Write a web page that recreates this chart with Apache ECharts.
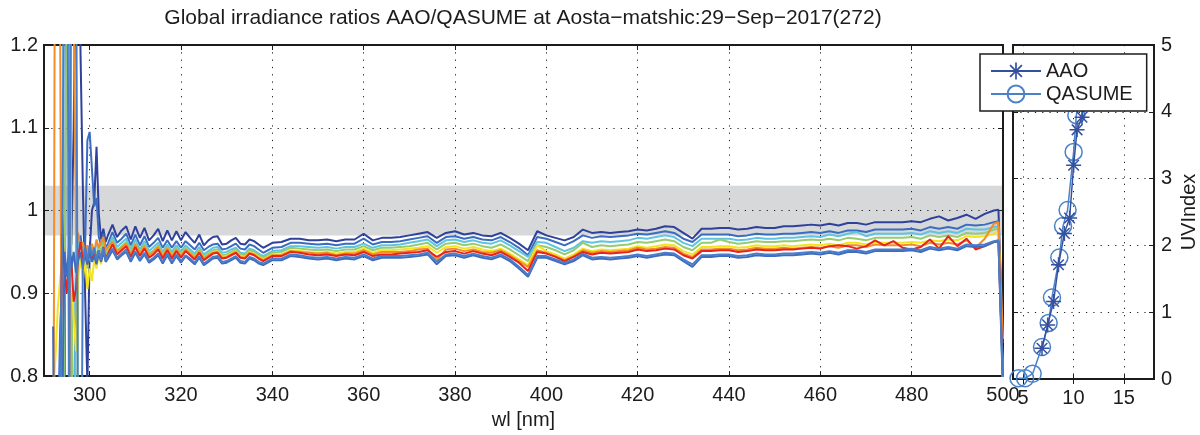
<!DOCTYPE html>
<html>
<head>
<meta charset="utf-8">
<script src="https://cdn.jsdelivr.net/npm/echarts@6.0.0/dist/echarts.min.js"></script>
<style>
  html, body { margin: 0; padding: 0; background: #ffffff; }
  #chart { width: 1200px; height: 435px; }
</style>
</head>
<body>
<div id="chart"></div>
<script>
// Wavelength grid [nm]
const wl = [
  290, 290.5, 291, 291.5, 292, 292.5, 293, 293.5, 294, 294.5, 295, 295.5, 296, 296.5, 297, 297.5,
  298, 298.5, 299, 299.5, 300, 300.5, 301, 301.5, 302, 302.5, 303, 303.5, 304,
  305, 306, 307, 308, 309, 310, 311, 312, 313, 314, 315, 316, 317, 318, 319, 320, 321, 322, 323, 324,
  325, 326, 327, 328, 329, 330, 331, 332, 333, 334, 335, 336, 337, 338, 339, 340,
  342, 344, 346, 348, 350, 352, 354, 356, 358, 360, 362, 364, 366, 368, 370, 372, 374, 376, 378, 380,
  382, 384, 386, 388, 390, 392, 394, 396, 398, 400, 402, 404, 406, 408, 410, 412, 414, 416, 418, 420,
  422, 424, 426, 428, 430, 432, 434, 436, 438, 440, 442, 444, 446, 448, 450, 452, 454, 456, 458, 460,
  462, 464, 466, 468, 470, 472, 474, 476, 478, 480, 482, 484, 486, 488, 490, 492, 494, 496, 498,
  499, 500
];

// Irradiance ratios AAO/QASUME (x1000), one scan per array
const ratio1 = [
  400,500,550,600,650,700,740,780,995,940,925,945,960,1100,1350,1450,1190,1030,900,790,950,1000,1010,1077,996,965,978,962,970,
  983,968,976,981,965,981,967,979,964,970,978,963,976,964,975,964,974,967,961,971,958,964,968,969,959,960,964,967,960,959,965,963,959,955,958,961,
  962,966,966,964,964,965,963,965,965,972,964,967,967,968,970,972,974,967,973,975,971,973,970,969,973,967,960,952,975,970,
  967,964,968,977,973,974,973,974,975,977,976,978,981,980,973,966,978,978,979,979,977,978,980,979,979,981,981,982,983,982,
  984,982,985,985,983,986,986,986,986,987,986,990,993,988,991,995,990,996,1000,
  1001,840
];
const ratio2 = [
  300,350,500,700,600,500,700,850,920,700,1600,1800,500,700,930,950,970,945,955,1085,1095,1050,1005,1015,968,958,972,955,960,
  974,961,966,972,958,971,958,969,956,961,967,955,964,955,963,955,963,958,953,961,952,956,959,960,953,954,957,960,954,953,959,957,953,949,952,955,
  956,961,961,960,959,960,958,960,960,966,959,962,962,963,965,967,969,961,968,969,966,968,965,964,968,962,955,946,968,966,
  962,958,963,970,967,969,968,969,970,972,971,973,975,973,966,962,971,971,971,971,969,970,972,971,971,972,972,973,974,973,
  975,973,976,976,974,977,977,977,977,978,976,980,978,980,978,983,982,983,986,
  987,790
];
const ratio3 = [
  200,300,400,500,600,700,750,600,900,1500,1700,1300,600,500,975,960,940,955,935,958,940,955,945,962,955,960,966,952,955,
  968,956,961,966,953,965,953,963,951,956,961,950,959,950,958,950,958,953,948,956,947,951,955,956,949,950,953,955,949,948,954,952,948,945,948,951,
  952,957,957,956,955,956,954,956,956,960,955,958,958,959,961,963,965,957,964,965,962,964,961,960,964,958,951,944,962,961,
  956,951,955,963,961,963,962,963,964,967,966,968,970,968,961,957,966,966,966,966,964,965,967,966,966,967,967,968,969,968,
  971,969,972,974,969,972,972,972,972,973,971,975,973,975,973,978,977,977,980,
  981,780
];
const ratio4 = [
  300,400,500,550,600,650,700,750,600,900,1300,1500,950,600,500,930,945,925,950,930,952,940,955,945,958,950,962,948,952,
  964,952,957,962,949,961,950,959,948,952,958,947,956,947,955,947,955,950,945,953,944,948,952,953,946,947,950,953,947,946,952,950,946,943,946,949,
  950,955,954,953,952,953,951,953,953,957,952,955,955,956,957,959,961,953,960,961,958,960,957,955,959,953,946,939,958,956,
  952,947,952,961,956,958,957,958,959,962,961,963,965,963,956,952,961,961,965,962,960,961,963,962,962,963,963,964,965,964,
  966,964,967,966,964,967,967,967,967,968,966,970,968,970,968,973,972,973,977,
  978,800
];
const ratio5 = [
  600,700,750,700,780,820,880,915,940,910,935,900,920,870,830,920,945,915,940,905,930,915,940,930,948,935,955,940,948,
  961,949,954,959,946,958,947,957,945,950,956,945,954,945,953,945,953,948,943,951,942,946,950,951,944,945,948,951,945,944,950,948,944,941,944,947,
  947,952,951,950,949,950,948,950,950,954,949,952,952,953,954,955,957,949,956,957,954,956,953,951,954,948,941,934,958,951,
  947,942,947,954,951,953,952,953,954,957,955,957,959,958,951,947,956,956,957,957,955,956,958,957,957,958,957,958,959,958,
  960,958,961,961,959,962,961,961,961,962,961,964,963,965,964,969,968,969,972,
  974,790
];
const ratio6 = [
  200,250,300,400,500,1600,1700,1300,500,400,500,600,1400,1250,975,972,955,962,945,958,948,960,950,965,955,962,968,952,956,
  962,950,955,960,947,959,948,957,946,950,956,945,954,945,953,945,953,948,943,951,942,946,949,950,943,944,947,950,944,943,949,947,943,940,943,946,
  946,951,950,949,948,949,946,948,948,952,947,950,950,950,951,953,954,940,953,954,951,953,950,949,952,946,939,932,952,949,
  945,940,945,952,949,951,950,951,952,955,953,954,956,955,948,944,953,953,954,954,952,953,955,954,954,955,954,955,956,955,
  957,955,958,958,956,959,958,958,958,959,957,961,959,961,959,964,955,966,984,
  986,845
];
const ratio7 = [
  400,450,500,550,600,650,700,760,972,925,900,950,940,890,905,945,962,940,946,935,952,940,948,938,952,940,956,942,948,
  959,947,952,957,944,956,945,954,943,947,953,942,952,942,951,943,951,946,941,949,940,944,948,949,942,943,946,949,943,942,948,946,942,939,942,945,
  945,950,949,947,946,947,945,947,946,950,945,947,947,948,949,950,952,944,950,951,948,951,948,946,950,944,937,927,950,948,
  944,939,944,950,947,949,948,949,950,953,951,952,954,953,946,942,951,951,952,952,950,951,953,952,952,953,953,954,955,954,
  957,958,957,954,957,964,958,963,955,953,956,965,954,969,957,966,953,957,962,
  963,800
];
const ratio8 = [
  null,null,null,null,860,500,600,700,750,950,920,960,930,950,925,940,950,930,955,935,950,938,945,935,948,938,950,938,942,
  952,941,946,950,938,949,939,947,937,941,946,936,946,936,945,937,945,940,935,943,934,938,942,943,936,937,940,943,937,936,942,940,936,934,937,940,
  940,945,944,942,941,942,940,942,941,945,940,943,943,943,944,945,947,935,945,946,943,946,943,941,945,939,930,920,943,943,
  939,935,939,946,941,942,941,942,943,945,943,945,947,946,939,932,944,944,945,945,943,944,946,945,945,946,946,947,948,947,
  949,947,950,950,948,951,951,951,951,952,950,954,952,954,952,957,956,957,962,
  963,780
];
const ratio9 = [
  300,400,500,600,700,750,700,800,970,1400,1600,700,1500,1700,1400,600,500,930,955,940,958,945,955,940,952,940,955,940,946,
  954,943,948,953,940,951,941,949,939,943,948,938,948,938,947,939,946,942,937,945,936,940,944,945,938,939,942,945,939,938,944,942,938,936,939,942,
  942,947,946,944,943,944,942,944,943,947,942,945,945,945,946,947,949,938,947,948,945,948,945,943,947,941,932,922,945,945,
  941,937,941,948,943,944,943,944,945,947,945,947,949,948,941,935,946,946,947,947,945,946,948,947,947,948,948,949,950,949,
  951,949,952,952,950,953,953,953,953,954,952,956,954,956,954,959,958,959,963,
  964,790
];

const lineColors = ['#2f419b', '#3a6dbf', '#5fc3e2', '#95cc70', '#f3e41f', '#f28d29', '#e6231d', '#3e6bbf', '#4a7dc8'];

// UV index time series (hours)
const aaoTime = [6.88, 7.44, 8.03, 8.52, 9.10, 9.62, 10.02, 10.36, 10.85, 11.30];
const aaoUvi  = [0.46, 0.81, 1.16, 1.71, 2.18, 2.41, 3.20, 3.73, 3.92, 4.35];
const qasumeTime = [4.55, 5.20, 5.95, 6.88, 7.54, 7.87, 8.60, 8.97, 9.42, 10.02, 10.29, 10.95];
const qasumeUvi  = [0.01, 0.01, 0.08, 0.48, 0.84, 1.22, 1.82, 2.29, 2.53, 3.40, 3.95, 4.40];

// Axis ticks and ranges
const wlTicks = [300, 320, 340, 360, 380, 400, 420, 440, 460, 480, 500];
const ratioTicks = [0.8, 0.9, 1, 1.1, 1.2];
const hourTicks = [5, 10, 15];
const uviTicks = [0, 1, 2, 3, 4, 5];
const bandLow = 0.97, bandHigh = 1.03;

const FONT = 'Liberation Sans, Arial, Helvetica, sans-serif';
const INK = '#1c1c1c';
const AAO_COLOR = '#34509f';
const QAS_COLOR = '#4a82c9';

const asterisk = 'path://M-1,-10L1,-10L1,10L-1,10Z M-10,-1L10,-1L10,1L-10,1Z ' +
  'M-7.78,-6.36L-6.36,-7.78L7.78,6.36L6.36,7.78Z M6.36,-7.78L7.78,-6.36L-6.36,7.78L-7.78,6.36Z';

const dotted = { color: INK, width: 1, type: [1.2, 6.1] };

function valueAxis(extra) {
  return Object.assign({
    type: 'value',
    axisLine: { show: false },
    axisTick: { show: true, inside: true, length: 5, lineStyle: { color: INK, width: 1 } },
    axisLabel: { show: false },
    splitLine: { show: false }
  }, extra);
}

const labelStyle = { show: true, fontSize: 20, color: INK, fontFamily: FONT };

const spectraSeries = [ratio1, ratio2, ratio3, ratio4, ratio5, ratio6, ratio7, ratio8, ratio9].map((vals, k) => ({
  type: 'line',
  xAxisIndex: 0,
  yAxisIndex: 0,
  symbol: 'none',
  silent: true,
  clip: true,
  lineStyle: { color: lineColors[k], width: 2 },
  data: wl.map((w, i) => [w, vals[i] == null ? null : vals[i] / 1000])
}));

const option = {
  animation: false,
  backgroundColor: '#ffffff',
  textStyle: { fontFamily: FONT },
  title: {
    text: 'Global irradiance ratios AAO/QASUME at Aosta\u2212matshic:29\u2212Sep\u22122017(272)',
    left: 523,
    top: 8,
    padding: 0,
    textAlign: 'center',
    textStyle: { fontSize: 21, fontWeight: 'normal', color: INK, fontFamily: FONT }
  },
  legend: {
    data: ['AAO', 'QASUME'],
    orient: 'vertical',
    left: 980,
    top: 54,
    padding: [7, 14, 7, 10],
    itemGap: 3,
    itemWidth: 50,
    itemHeight: 21,
    backgroundColor: '#ffffff',
    borderColor: INK,
    borderWidth: 1.5,
    borderRadius: 0,
    z: 20,
    textStyle: { fontSize: 20, color: INK, fontFamily: FONT }
  },
  grid: [
    { left: 44, top: 45, width: 959, height: 334, show: true, borderColor: INK, borderWidth: 2, backgroundColor: 'transparent' },
    { left: 1013, top: 45, width: 141, height: 334, show: true, borderColor: INK, borderWidth: 2, backgroundColor: 'transparent' }
  ],
  xAxis: [
    valueAxis({
      gridIndex: 0, position: 'bottom', min: 290, max: 500, interval: 20,
      name: 'wl [nm]', nameLocation: 'middle', nameGap: 28,
      nameTextStyle: { fontSize: 20, color: INK, fontFamily: FONT },
      axisTick: { show: true, inside: true, length: 5, customValues: wlTicks, lineStyle: { color: INK, width: 1 } },
      axisLabel: Object.assign({}, labelStyle, { margin: 9, customValues: wlTicks, formatter: v => String(v) }),
      splitLine: { show: true, lineStyle: dotted }
    }),
    valueAxis({
      gridIndex: 0, position: 'top', min: 290, max: 500, interval: 20,
      axisTick: { show: true, inside: true, length: 5, customValues: wlTicks, lineStyle: { color: INK, width: 1 } }
    }),
    valueAxis({
      gridIndex: 1, position: 'bottom', min: 4, max: 18, interval: 5,
      axisTick: { show: true, inside: true, length: 5, customValues: hourTicks, lineStyle: { color: INK, width: 1 } },
      axisLabel: Object.assign({}, labelStyle, { margin: 9, customValues: hourTicks, formatter: v => String(v) }),
      splitLine: { show: true, lineStyle: dotted }
    }),
    valueAxis({
      gridIndex: 1, position: 'top', min: 4, max: 18, interval: 5,
      axisTick: { show: true, inside: true, length: 5, customValues: hourTicks, lineStyle: { color: INK, width: 1 } }
    })
  ],
  yAxis: [
    valueAxis({
      gridIndex: 0, position: 'left', min: 0.8, max: 1.2, interval: 0.1,
      axisTick: { show: true, inside: true, length: 5, customValues: ratioTicks, lineStyle: { color: INK, width: 1 } },
      axisLabel: Object.assign({}, labelStyle, {
        margin: 6, customValues: ratioTicks,
        formatter: v => (Math.abs(v - 1) < 1e-9 ? '1' : Number(v).toFixed(1))
      }),
      splitLine: { show: true, lineStyle: dotted }
    }),
    valueAxis({
      gridIndex: 0, position: 'right', min: 0.8, max: 1.2, interval: 0.1,
      axisTick: { show: true, inside: true, length: 5, customValues: ratioTicks, lineStyle: { color: INK, width: 1 } }
    }),
    valueAxis({
      gridIndex: 1, position: 'left', min: 0, max: 5, interval: 1,
      axisTick: { show: true, inside: true, length: 5, customValues: uviTicks, lineStyle: { color: INK, width: 1 } },
      splitLine: { show: true, lineStyle: dotted }
    }),
    valueAxis({
      gridIndex: 1, position: 'right', min: 0, max: 5, interval: 1,
      name: 'UVIndex', nameLocation: 'middle', nameRotate: 90, nameGap: 25,
      nameTextStyle: { fontSize: 20, color: INK, fontFamily: FONT },
      axisTick: { show: true, inside: true, length: 5, customValues: uviTicks, lineStyle: { color: INK, width: 1 } },
      axisLabel: Object.assign({}, labelStyle, { margin: 7, customValues: uviTicks, formatter: v => String(v) })
    })
  ],
  series: [
    {
      type: 'line',
      xAxisIndex: 0,
      yAxisIndex: 0,
      data: [],
      silent: true,
      markArea: {
        silent: true,
        z: -1,
        itemStyle: { color: '#d7d8da' },
        data: [[{ yAxis: bandLow }, { yAxis: bandHigh }]]
      }
    },
    ...spectraSeries,
    {
      name: 'QASUME',
      type: 'line',
      xAxisIndex: 2,
      yAxisIndex: 2,
      symbol: 'circle',
      symbolSize: 17,
      lineStyle: { color: QAS_COLOR, width: 1.5 },
      itemStyle: { color: 'rgba(255,255,255,0)', borderColor: QAS_COLOR, borderWidth: 1.5 },
      data: qasumeTime.map((t, i) => [t, qasumeUvi[i]]),
      z: 3
    },
    {
      name: 'AAO',
      type: 'line',
      xAxisIndex: 2,
      yAxisIndex: 2,
      symbol: asterisk,
      symbolSize: 15,
      lineStyle: { color: AAO_COLOR, width: 1.5 },
      itemStyle: { color: AAO_COLOR },
      data: aaoTime.map((t, i) => [t, aaoUvi[i]]),
      z: 4
    }
  ]
};

const chart = echarts.init(document.getElementById('chart'), null, { renderer: 'canvas' });
chart.setOption(option);
</script>
</body>
</html>
